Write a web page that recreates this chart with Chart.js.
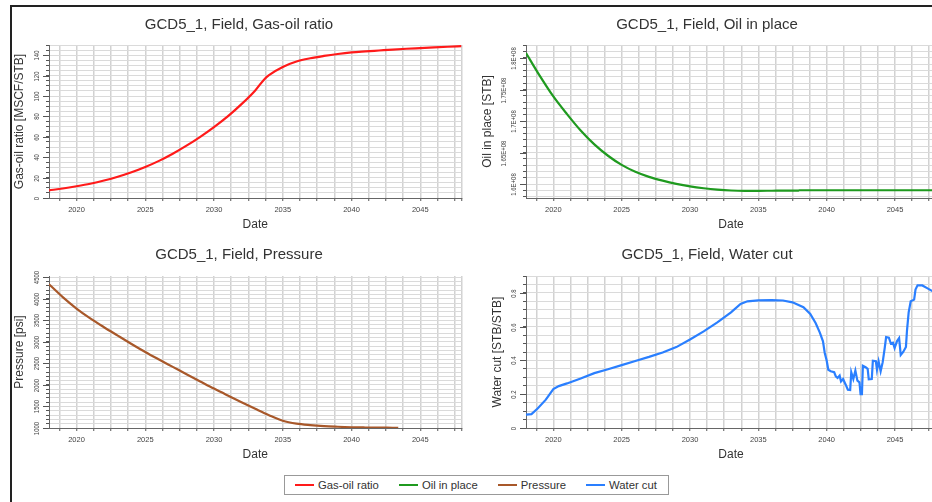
<!DOCTYPE html>
<html>
<head>
<meta charset="utf-8">
<script src="https://cdn.jsdelivr.net/npm/chart.js@4.4.1/dist/chart.umd.min.js"></script>
<style>
  body { margin: 0; width: 932px; height: 502px; overflow: hidden; background: #fff; position: relative; font-family: "Liberation Sans", Arial, sans-serif; }
  #frame { position: absolute; left: 10px; top: 5px; width: 1000px; height: 600px; border-left: 2px solid #222; border-top: 2px solid #222; }
  canvas { position: absolute; }
  #legend { position: absolute; left: 284px; top: 475px; width: 373px; height: 18px; border: 1px solid #999; display: flex; align-items: center; padding-left: 10px; gap: 20px; font-size: 11.3px; color: #333; box-sizing: content-box; }
  #legend .item { display: flex; align-items: center; }
  #legend .line { width: 19px; height: 2px; margin-right: 4px; }
</style>
</head>
<body>
<div id="frame"></div>
<canvas id="gor" width="454" height="230" style="left:12px;top:7px"></canvas>
<canvas id="oil" width="474" height="230" style="left:478px;top:7px"></canvas>
<canvas id="pres" width="454" height="230" style="left:12px;top:237px"></canvas>
<canvas id="wcut" width="474" height="230" style="left:478px;top:237px"></canvas>
<div id="legend"></div>
<script>
const FONT = '"Liberation Sans", Arial, sans-serif';
Chart.defaults.font.family = FONT;

// series
const seriesNames = ['Gas-oil ratio', 'Oil in place', 'Pressure', 'Water cut'];
const seriesColors = ['#ff1a1a', '#1f9a1f', '#a8582a', '#2a7fff'];
const chartTitles = ['GCD5_1, Field, Gas-oil ratio', 'GCD5_1, Field, Oil in place', 'GCD5_1, Field, Pressure', 'GCD5_1, Field, Water cut'];
const yTitles = ['Gas-oil ratio [MSCF/STB]', 'Oil in place [STB]', 'Pressure [psi]', 'Water cut [STB/STB]'];

// x axis (years)
const yearLabels = [2020, 2025, 2030, 2035, 2040, 2045];

// gas-oil ratio
const gorYears = [2018, 2019, 2020, 2021, 2022, 2023, 2024, 2025, 2026, 2027, 2028, 2029, 2030, 2031, 2032, 2033, 2033.7, 2034, 2035, 2036, 2037, 2038, 2039, 2040, 2041, 2042, 2043, 2044, 2045, 2046, 2047, 2048];
const gorValues = [7.5, 9.3, 11.5, 14, 17.1, 20.8, 25.2, 30.4, 36.4, 43.4, 51.3, 60, 69.5, 80, 92, 105.5, 117, 120.5, 128.5, 133.8, 137, 139.3, 141.2, 142.7, 143.7, 144.6, 145.5, 146.3, 147, 147.7, 148.3, 148.8];
const gorTicks = [0, 20, 40, 60, 80, 100, 120, 140];

// oil in place
const oilYears = [2018, 2019, 2020, 2021, 2022, 2023, 2024, 2025, 2026, 2027, 2028, 2029, 2030, 2031, 2032, 2033, 2034, 2035, 2036, 2037, 2037.9, 2038, 2040, 2044, 2048];
const oilValues = [1.808e8, 1.772e8, 1.739e8, 1.711e8, 1.685e8, 1.663e8, 1.645e8, 1.6305e8, 1.6195e8, 1.6115e8, 1.6055e8, 1.6005e8, 1.5965e8, 1.5935e8, 1.5913e8, 1.5899e8, 1.5894e8, 1.5894e8, 1.5895e8, 1.5896e8, 1.5896e8, 1.5903e8, 1.5903e8, 1.5903e8, 1.5903e8];
const oilTicks = [1.6e8, 1.65e8, 1.7e8, 1.75e8, 1.8e8];
const oilTickLabels = ['1.6E+08', '1.65E+08', '1.7E+08', '1.75E+08', '1.8E+08'];

// pressure
const presYears = [2018, 2019, 2020, 2021, 2022, 2023, 2024, 2025, 2026, 2027, 2028, 2029, 2030, 2031, 2032, 2033, 2034, 2035, 2036, 2037, 2038, 2039, 2040, 2041, 2042, 2043, 2043.4];
const presValues = [4340, 4040, 3775, 3545, 3340, 3145, 2952, 2765, 2590, 2420, 2250, 2082, 1915, 1755, 1598, 1445, 1297, 1168, 1100, 1066, 1043, 1029, 1018, 1012, 1008, 1006, 1005];
const presTicks = [1000, 1500, 2000, 2500, 3000, 3500, 4000, 4500];

// water cut
const wcutYears = [2018, 2018.4, 2018.85, 2019.45, 2020, 2020.4, 2021, 2022, 2023, 2024, 2025, 2026, 2027, 2028, 2029, 2030, 2031, 2032, 2033, 2033.7, 2034.2, 2035, 2036, 2036.8, 2037.5, 2038.3, 2038.8, 2039.2, 2039.5, 2039.73, 2039.86, 2040, 2040.12, 2040.3, 2040.55, 2040.67, 2040.8, 2040.95, 2041.05, 2041.2, 2041.4, 2041.55, 2041.72, 2041.8, 2041.95, 2042.1, 2042.25, 2042.4, 2042.48, 2042.58, 2042.65, 2042.85, 2043, 2043.08, 2043.3, 2043.38, 2043.6, 2043.68, 2043.8, 2043.95, 2044.1, 2044.25, 2044.35, 2044.55, 2044.7, 2044.85, 2044.97, 2045.15, 2045.3, 2045.42, 2045.6, 2045.8, 2045.88, 2046, 2046.15, 2046.4, 2046.5, 2046.65, 2047, 2047.35, 2047.7, 2048];
const wcutValues = [0.079, 0.082, 0.115, 0.168, 0.23, 0.248, 0.264, 0.293, 0.325, 0.348, 0.372, 0.397, 0.421, 0.447, 0.479, 0.524, 0.572, 0.625, 0.685, 0.735, 0.75, 0.756, 0.757, 0.755, 0.744, 0.715, 0.675, 0.62, 0.565, 0.513, 0.444, 0.4, 0.345, 0.336, 0.33, 0.306, 0.296, 0.31, 0.276, 0.29, 0.255, 0.227, 0.225, 0.33, 0.29, 0.34, 0.28, 0.27, 0.2, 0.2, 0.368, 0.36, 0.35, 0.288, 0.29, 0.398, 0.395, 0.345, 0.395, 0.336, 0.39, 0.475, 0.538, 0.535, 0.5, 0.505, 0.474, 0.515, 0.532, 0.432, 0.45, 0.48, 0.58, 0.685, 0.75, 0.76, 0.82, 0.845, 0.844, 0.828, 0.812, 0.8];
const wcutTicks = [0, 0.2, 0.4, 0.6, 0.8];

// x grid every 1.25 years
const xGrid = [];
for (let i = 0; i < 24; i++) xGrid.push(2018.75 + i * 1.25);
xGrid.push(2048);

// rotated y tick labels + longer major tick marks
const yTickLabels = {
  id: 'yTickLabels',
  afterDraw(chart, args, o) {
    const s = chart.scales.y, ctx = chart.ctx;
    ctx.save();
    ctx.font = '8px ' + FONT;
    ctx.fillStyle = '#444';
    ctx.strokeStyle = '#555';
    ctx.lineWidth = 1;
    ctx.textAlign = 'center';
    ctx.textBaseline = 'middle';
    o.values.forEach((v, i) => {
      const y = Math.round(s.getPixelForValue(v)) + 0.5;
      ctx.beginPath();
      ctx.moveTo(s.right - 6, y);
      ctx.lineTo(s.right, y);
      ctx.stroke();
      const x = s.right - 12.5 - (o.stagger && i % 2 ? 10 : 0);
      ctx.save();
      ctx.translate(x, y);
      ctx.rotate(-Math.PI / 2);
      ctx.scale(0.75, 1);
      ctx.fillText(o.labels[i], 0, 0);
      ctx.restore();
    });
    ctx.restore();
  }
};

function makeChart(id, c) {
  return new Chart(document.getElementById(id), {
    type: 'line',
    data: {
      datasets: [{
        label: c.name,
        data: c.xs.map((x, i) => ({ x, y: c.ys[i] })),
        borderColor: c.color,
        borderWidth: 2.2,
        pointRadius: 0,
        cubicInterpolationMode: c.smooth ? 'monotone' : 'default',
        tension: 0
      }]
    },
    options: {
      responsive: false,
      animation: false,
      events: [],
      layout: { padding: { left: 0, right: c.padRight, top: 0, bottom: 0 } },
      plugins: {
        legend: { display: false },
        tooltip: { enabled: false },
        title: {
          display: true, text: c.title, color: '#333',
          font: { size: 15, weight: 'normal', family: FONT, lineHeight: 1.2 },
          padding: { top: 9, bottom: c.titlePadBottom }
        },
        yTickLabels: { values: c.yTicks, labels: c.yLabels, stagger: c.stagger }
      },
      scales: {
        x: {
          type: 'linear', min: 2018, max: 2048,
          afterBuildTicks: s => { s.ticks = xGrid.map(v => ({ value: v })); },
          afterFit: s => { s.height = 39; },
          ticks: {
            autoSkip: false, maxRotation: 0, minRotation: 0, padding: 4.5, color: '#444',
            font: { size: 7.5, family: FONT },
            callback: v => yearLabels.includes(v) ? String(v) : ''
          },
          grid: { color: '#d2d2d2', lineWidth: 1.5, tickLength: 3, tickColor: '#555', tickWidth: 1 },
          border: { color: '#666', width: 1 },
          title: { display: true, text: 'Date', color: '#333', font: { size: 12, family: FONT }, padding: { top: 0, bottom: 5.5 } }
        },
        y: {
          type: 'linear', min: c.yMin, max: c.yMax,
          afterBuildTicks: s => {
            const t = [];
            const start = Math.ceil(c.yMin / c.yStep - 1e-9);
            for (let k = start; k * c.yStep <= c.yMax + 1e-9; k++) t.push({ value: k * c.yStep });
            s.ticks = t;
          },
          afterFit: s => { s.width = c.yWidth; },
          ticks: { display: false },
          grid: { color: '#dadada', lineWidth: 1, tickLength: 3, tickColor: '#555', tickWidth: 1 },
          border: { color: '#666', width: 1 },
          title: { display: true, text: c.yTitle, color: '#333', font: { size: 12, family: FONT }, padding: { top: c.yTitlePad, bottom: 0 } }
        }
      }
    },
    plugins: [yTickLabels]
  });
}

makeChart('gor', {
  name: seriesNames[0], color: seriesColors[0], title: chartTitles[0], yTitle: yTitles[0],
  xs: gorYears, ys: gorValues, smooth: true,
  yMin: 0, yMax: 150, yStep: 5, yTicks: gorTicks, yLabels: gorTicks.map(String), stagger: false,
  yWidth: 37, yTitlePad: 0.8, padRight: 0, titlePadBottom: 11
});
makeChart('oil', {
  name: seriesNames[1], color: seriesColors[1], title: chartTitles[1], yTitle: yTitles[1],
  xs: oilYears, ys: oilValues, smooth: true,
  yMin: 1.578e8, yMax: 1.8206e8, yStep: 1e6, yTicks: oilTicks, yLabels: oilTickLabels, stagger: true,
  yWidth: 48, yTitlePad: 2.8, padRight: 16, titlePadBottom: 11
});
makeChart('pres', {
  name: seriesNames[2], color: seriesColors[2], title: chartTitles[2], yTitle: yTitles[2],
  xs: presYears, ys: presValues, smooth: true,
  yMin: 1000, yMax: 4530, yStep: 100, yTicks: presTicks, yLabels: presTicks.map(String), stagger: false,
  yWidth: 37, yTitlePad: 0.8, padRight: 0, titlePadBottom: 12
});
makeChart('wcut', {
  name: seriesNames[3], color: seriesColors[3], title: chartTitles[3], yTitle: yTitles[3],
  xs: wcutYears, ys: wcutValues, smooth: false,
  yMin: 0, yMax: 0.9, yStep: 0.05, yTicks: wcutTicks, yLabels: wcutTicks.map(String), stagger: false,
  yWidth: 48, yTitlePad: 12.8, padRight: 16, titlePadBottom: 12
});

// legend
const legend = document.getElementById('legend');
seriesNames.forEach((name, i) => {
  const item = document.createElement('div');
  item.className = 'item';
  const line = document.createElement('span');
  line.className = 'line';
  line.style.background = seriesColors[i];
  const text = document.createElement('span');
  text.textContent = name;
  item.appendChild(line);
  item.appendChild(text);
  legend.appendChild(item);
});
</script>
</body>
</html>
